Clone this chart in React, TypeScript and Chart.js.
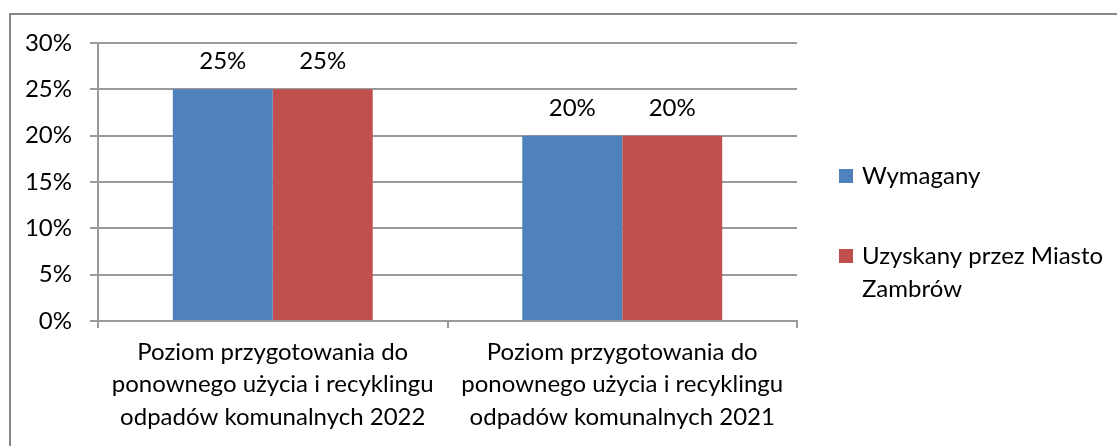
import React, { useEffect, useRef } from "react";
import { Chart, registerables } from "chart.js";

Chart.register(...registerables);

const categories = [
  ["Poziom przygotowania do", "ponownego użycia i recyklingu", "odpadów komunalnych 2022"],
  ["Poziom przygotowania do", "ponownego użycia i recyklingu", "odpadów komunalnych 2021"],
];
const seriesNames = ["Wymagany", "Uzyskany przez Miasto Zambrów"];
const legendLines = [["Wymagany"], ["Uzyskany przez Miasto", "Zambrów"]];
const wymagany = [25, 20];
const uzyskany = [25, 20];
const yTickMax = 30;
const yTickStep = 5;

const FONT = "Lato, 'Open Sans', sans-serif";
const FS = 24;
const GRID = "#9a9a9a";
const BLUE = "#4F81BD";
const RED = "#C0504D";

export default function App() {
  const ref = useRef<HTMLCanvasElement | null>(null);

  useEffect(() => {
    const canvas = ref.current;
    if (!canvas) return;

    const framePlugin = {
      id: "frame",
      beforeDraw(chart: any) {
        const ctx = chart.ctx;
        ctx.save();
        ctx.fillStyle = "#ffffff";
        ctx.fillRect(0, 0, chart.width, chart.height);
        ctx.strokeStyle = "#868686";
        ctx.lineWidth = 2;
        ctx.beginPath();
        ctx.moveTo(10, chart.height);
        ctx.lineTo(10, 14);
        ctx.lineTo(chart.width, 14);
        ctx.stroke();
        ctx.restore();
      },
    };

    const valueLabels = {
      id: "valueLabels",
      afterDatasetsDraw(chart: any) {
        const ctx = chart.ctx;
        ctx.save();
        ctx.font = `${FS}px ${FONT}`;
        ctx.fillStyle = "#000";
        ctx.textAlign = "center";
        ctx.textBaseline = "alphabetic";
        chart.data.datasets.forEach((ds: any, i: number) => {
          const meta = chart.getDatasetMeta(i);
          meta.data.forEach((bar: any, j: number) => {
            ctx.fillText(ds.data[j] + "%", bar.x, bar.y - 20);
          });
        });
        ctx.restore();
      },
    };

    const legendPlugin = {
      id: "customLegend",
      afterDraw(chart: any) {
        const ctx = chart.ctx;
        const area = chart.chartArea;
        const colors = [BLUE, RED];
        const centers = [176, 256];
        const boxX = area.right + 42;
        const lineH = 33;
        ctx.save();
        ctx.font = `${FS}px ${FONT}`;
        ctx.fillStyle = "#000";
        ctx.textAlign = "left";
        ctx.textBaseline = "middle";
        legendLines.forEach((lines, i) => {
          ctx.fillStyle = colors[i];
          ctx.fillRect(boxX, centers[i] - 7, 14, 14);
          ctx.fillStyle = "#000";
          lines.forEach((t, k) => {
            ctx.fillText(t, boxX + 23, centers[i] + k * lineH);
          });
        });
        ctx.restore();
      },
    };

    const chart = new Chart(canvas, {
      type: "bar",
      data: {
        labels: categories,
        datasets: [
          {
            label: seriesNames[0],
            data: wymagany,
            backgroundColor: BLUE,
            borderWidth: 0,
            categoryPercentage: 0.572,
            barPercentage: 1,
          },
          {
            label: seriesNames[1],
            data: uzyskany,
            backgroundColor: RED,
            borderWidth: 0,
            categoryPercentage: 0.572,
            barPercentage: 1,
          },
        ],
      },
      options: {
        responsive: false,
        animation: false,
        devicePixelRatio: 1,
        layout: { padding: { top: 43, right: 320, left: 0, bottom: 0 } },
        plugins: {
          legend: { display: false },
          tooltip: { enabled: false },
          title: { display: false },
        },
        scales: {
          x: {
            offset: true,
            grid: {
              offset: true,
              drawOnChartArea: false,
              drawTicks: true,
              tickLength: 7,
              color: GRID,
              lineWidth: 2,
            },
            border: { display: true, color: GRID, width: 2 },
            ticks: {
              color: "#000",
              font: { family: FONT, size: FS, lineHeight: 1.35 },
              padding: 8,
              maxRotation: 0,
              autoSkip: false,
            },
            afterFit(scale: any) {
              scale.height = 125;
            },
          },
          y: {
            min: 0,
            max: yTickMax,
            grid: {
              color: GRID,
              lineWidth: 2,
              drawTicks: true,
              tickLength: 8,
            },
            border: { display: true, color: GRID, width: 2 },
            ticks: {
              stepSize: yTickStep,
              color: "#000",
              font: { family: FONT, size: FS },
              padding: 18,
              callback: (v: any) => v + "%",
            },
            afterFit(scale: any) {
              scale.width = 98;
            },
          },
        },
      },
      plugins: [framePlugin, valueLabels, legendPlugin],
    });

    return () => chart.destroy();
  }, []);

  return (
    <div style={{ position: "absolute", left: 0, top: 0, width: 1117, height: 446 }}>
      <canvas ref={ref} width={1117} height={446} style={{ width: 1117, height: 446, display: "block" }} />
    </div>
  );
}
